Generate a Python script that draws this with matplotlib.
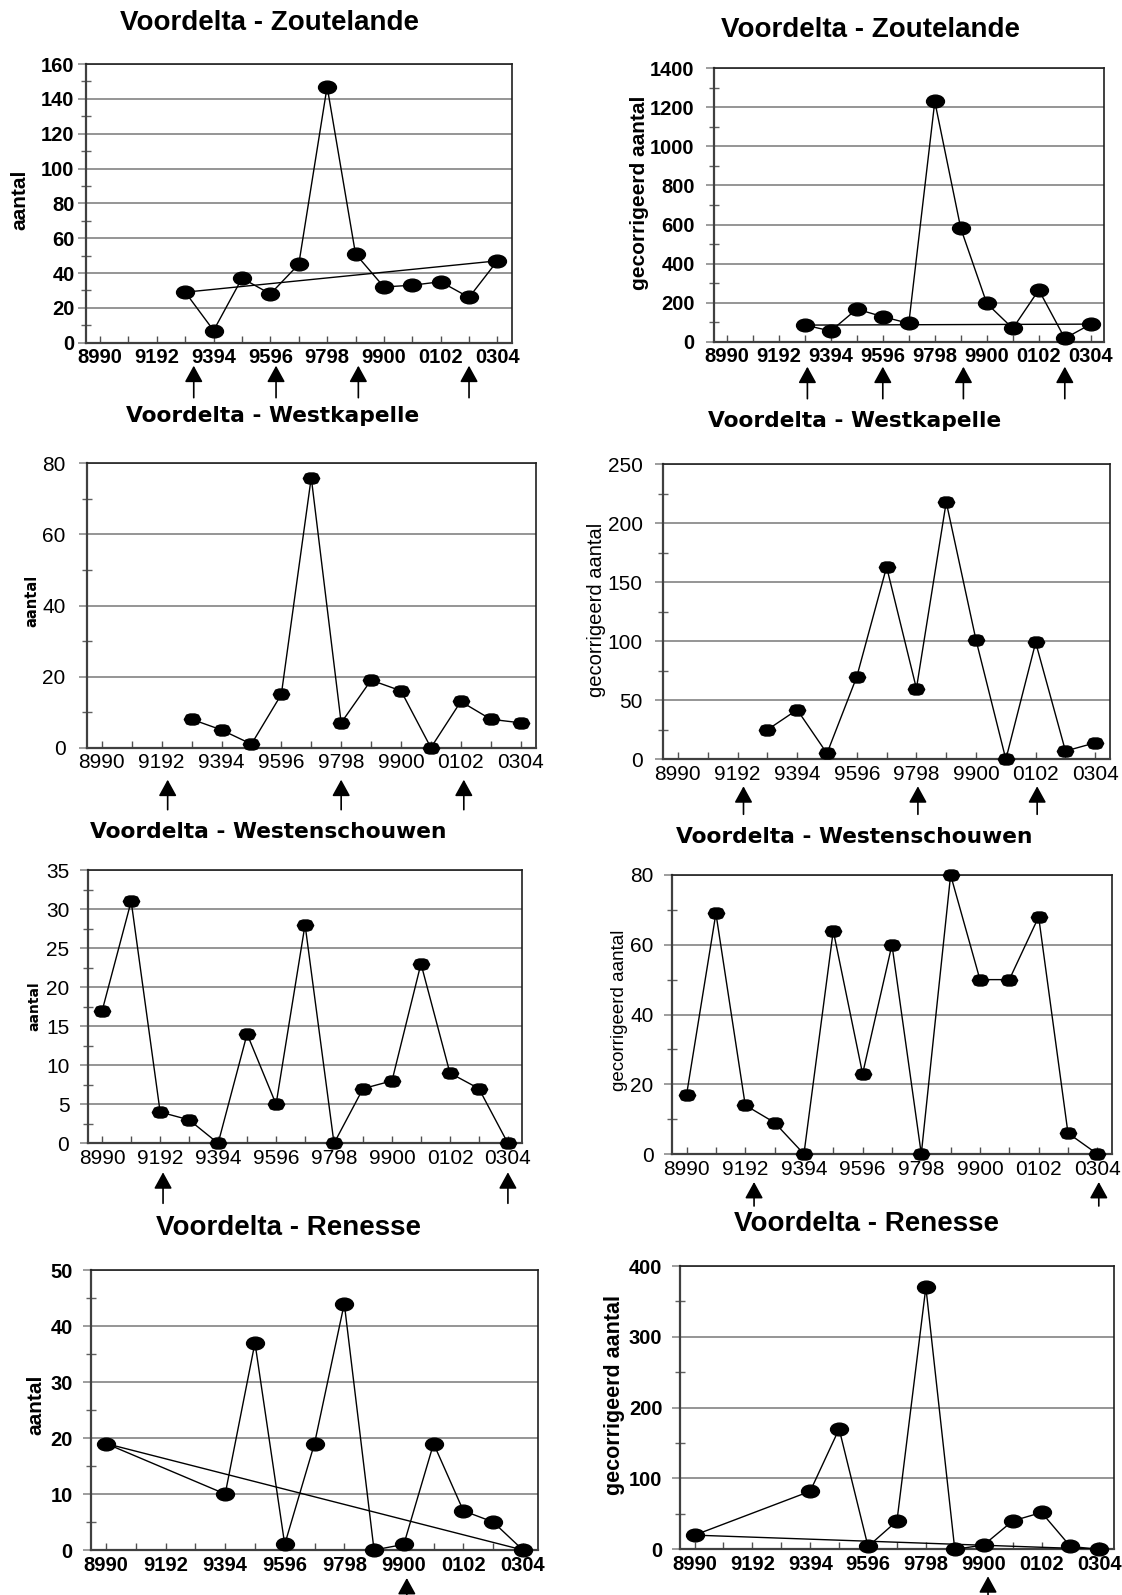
import numpy as np
import matplotlib
matplotlib.use('Agg')
import matplotlib.pyplot as plt
from matplotlib.path import Path
import matplotlib.transforms as mtransforms
from matplotlib.ticker import MultipleLocator

W, H = 1122, 1595
DPI = 100
nan = np.nan

# ---------------- data ----------------
seasons = ['8990', '9091', '9192', '9293', '9394', '9495', '9596', '9697',
           '9798', '9899', '9900', '0001', '0102', '0203', '0304']
tick_labels = [s if i % 2 == 0 else '' for i, s in enumerate(seasons)]

titles = ['Voordelta - Zoutelande', 'Voordelta - Zoutelande',
          'Voordelta - Westkapelle', 'Voordelta - Westkapelle',
          'Voordelta - Westenschouwen', 'Voordelta - Westenschouwen',
          'Voordelta - Renesse', 'Voordelta - Renesse']
ylabels = ['aantal', 'gecorrigeerd aantal'] * 4

zoutelande_aantal = [nan, nan, nan, 29, 7, 37, 28, 45, 147, 51, 32, 33, 35, 26, 47]
zoutelande_gecorr = [nan, nan, nan, 85, 55, 167, 128, 94, 1230, 580, 196, 68, 265, 17, 90]
westkapelle_aantal = [nan, nan, nan, 8, 5, 1, 15, 76, 7, 19, 16, 0, 13, 8, 7]
westkapelle_gecorr = [nan, nan, nan, 25, 42, 5, 70, 163, 60, 218, 101, 0, 99, 7, 14]
westenschouwen_aantal = [17, 31, 4, 3, 0, 14, 5, 28, 0, 7, 8, 23, 9, 7, 0]
westenschouwen_gecorr = [17, 69, 14, 9, 0, 64, 23, 60, 0, 80, 50, 50, 68, 6, 0]
renesse_aantal = [19, nan, nan, nan, 10, 37, 1, 19, 44, 0, 1, 19, 7, 5, 0]
renesse_gecorr = [20, nan, nan, nan, 82, 170, 4, 40, 370, 0, 6, 40, 52, 4, 0]

series = [zoutelande_aantal, zoutelande_gecorr, westkapelle_aantal, westkapelle_gecorr,
          westenschouwen_aantal, westenschouwen_gecorr, renesse_aantal, renesse_gecorr]

# y-axis ranges: (max, major step, minor step)
y_max = [160, 1400, 80, 250, 35, 80, 50, 400]
y_major = [20, 200, 20, 50, 5, 20, 10, 100]
y_minor = [10, 100, 10, 25, 2.5, 10, 5, 50]

# line connecting first and last observation drawn on these panels
with_trend = [True, True, False, False, False, False, True, True]

# arrow positions (season index) below each x axis
arrows = [[3.3, 6.2, 9.1, 13.0], [3.1, 6.0, 9.1, 13.0],
          [2.2, 8.0, 12.1], [2.2, 8.05, 12.05],
          [2.1, 14.0], [2.3, 14.05],
          [10.1], [10.15]]

# ---------------- layout (pixels: left, top, right, bottom) ----------------
boxes = [(85.9, 64, 511.6, 342.7), (713.8, 68.3, 1103.8, 341.7),
         (86.9, 463.3, 535.6, 747.7), (663, 464.3, 1110.2, 759.3),
         (87.7, 870, 522.4, 1143.3), (671.9, 875, 1112, 1154),
         (91.2, 1270, 537.8, 1550), (680.1, 1266, 1113.8, 1549.3)]
title_pos = [(270, 23), (870.5, 30), (272.8, 416), (854.4, 421),
             (268.4, 832), (854.4, 837), (288.9, 1228), (866, 1224)]
ylabel_pos = [(19.7, 200), (639.7, 193), (32.2, 601), (596.8, 610),
              (34, 1006), (620, 1010), (35.8, 1405), (614.7, 1395)]
arrow_px = [(23, 55), (25, 57), (32, 62), (27, 55),
            (29, 60), (28, 52), (28, 47), (27, 47)]
bold_style = [True, True, False, False, False, False, True, True]
ylabel_sizes = [15, 15, 10.5, 14.5, 10, 13.5, 15, 15.5]
ytick_gap_px = [9, 16.8, 19, 18, 16, 16, 16, 15.3]

# ---------------- markers ----------------
ellipse = Path.unit_circle().transformed(mtransforms.Affine2D().scale(1.0, 0.71))
hex_verts = [(-1, 0), (-0.72, 0.53), (-0.3, 0.67), (0.3, 0.67), (0.72, 0.53), (1, 0),
             (0.72, -0.53), (0.3, -0.67), (-0.3, -0.67), (-0.72, -0.53), (-1, 0)]
hexagon = Path(hex_verts, closed=True)

fig = plt.figure(figsize=(W / DPI, H / DPI), dpi=DPI)
fig.patch.set_facecolor('white')

for i in range(8):
    l, t, r, b = boxes[i]
    ax = fig.add_axes([l / W, 1 - b / H, (r - l) / W, (b - t) / H])
    vals = np.array(series[i], dtype=float)
    xs = np.arange(len(seasons))
    m = ~np.isnan(vals)
    bold = bold_style[i]
    marker = ellipse if bold else hexagon
    msize = 12.9 if bold else 11.8
    ax.plot(xs[m], vals[m], color='black', lw=1.0, zorder=3, clip_on=False)
    ax.plot(xs[m], vals[m], linestyle='none', marker=marker, markersize=msize,
            color='black', zorder=4, clip_on=False)
    if with_trend[i]:
        xm, vm = xs[m], vals[m]
        ax.plot([xm[0], xm[-1]], [vm[0], vm[-1]], color='black', lw=1.0, zorder=3)

    ax.set_xlim(-0.5, len(seasons) - 0.5)
    ax.set_ylim(0, y_max[i])
    ax.set_xticks(xs)
    ax.yaxis.set_major_locator(MultipleLocator(y_major[i]))
    ax.yaxis.set_minor_locator(MultipleLocator(y_minor[i]))

    tick_font = dict(family='Liberation Sans', size=14.5 if bold else 15,
                     weight='bold' if bold else 'normal')
    ax.set_xticklabels(tick_labels, fontdict=tick_font)
    yt = ax.get_yticks()
    ax.set_yticks(yt)
    ax.set_yticklabels([('%g' % v) for v in yt], fontdict=tick_font)
    ax.set_ylim(0, y_max[i])

    ax.tick_params(axis='x', direction='in', length=5, width=1.0, color='#505050',
                   pad=4)
    ax.tick_params(axis='y', which='major', direction='out', length=6, width=1.2,
                   color='#8c8c8c', pad=(ytick_gap_px[i] - 6) * 0.72)
    ax.tick_params(axis='y', which='minor', direction='inout', length=7, width=1.0,
                   color='#606060')
    ax.grid(axis='y', which='major', color='#8c8c8c', lw=1.3)
    ax.set_axisbelow(True)
    for s in ['left', 'bottom']:
        ax.spines[s].set_color('#404040')
        ax.spines[s].set_linewidth(1.6)
    for s in ['top', 'right']:
        ax.spines[s].set_color('#202020')
        ax.spines[s].set_linewidth(1.2)

    # arrows
    tip, tail = arrow_px[i]
    t_tip = ax.get_xaxis_transform() + mtransforms.ScaledTranslation(0, -tip / DPI, fig.dpi_scale_trans)
    t_tail = ax.get_xaxis_transform() + mtransforms.ScaledTranslation(0, -tail / DPI, fig.dpi_scale_trans)
    for ap in arrows[i]:
        ax.annotate('', xy=(ap, 0), xycoords=t_tip, xytext=(ap, 0), textcoords=t_tail,
                    arrowprops=dict(arrowstyle='-|>,head_length=1.0,head_width=0.55',
                                    mutation_scale=10, color='black', lw=1.2,
                                    shrinkA=0, shrinkB=0),
                    annotation_clip=False)

    # title
    tx, ty = title_pos[i]
    if bold:
        fig.text(tx / W, 1 - ty / H, titles[i], ha='center', va='center',
                 family='Liberation Sans', weight='bold', size=20)
    else:
        fig.text(tx / W, 1 - ty / H, titles[i], ha='center', va='center',
                 family='DejaVu Sans', weight='bold', size=15.7)
    # y label
    lx, ly = ylabel_pos[i]
    if bold:
        fig.text(lx / W, 1 - ly / H, ylabels[i], ha='center', va='center', rotation=90,
                 family='Liberation Sans', weight='bold', size=ylabel_sizes[i])
    else:
        if i in (2, 4):
            fig.text(lx / W, 1 - ly / H, ylabels[i], ha='center', va='center', rotation=90,
                     family='DejaVu Sans', weight='bold', size=ylabel_sizes[i])
        else:
            fig.text(lx / W, 1 - ly / H, ylabels[i], ha='center', va='center', rotation=90,
                     family='Liberation Sans', weight='normal', size=ylabel_sizes[i])

fig.savefig('out.png', dpi=DPI, facecolor='white')
